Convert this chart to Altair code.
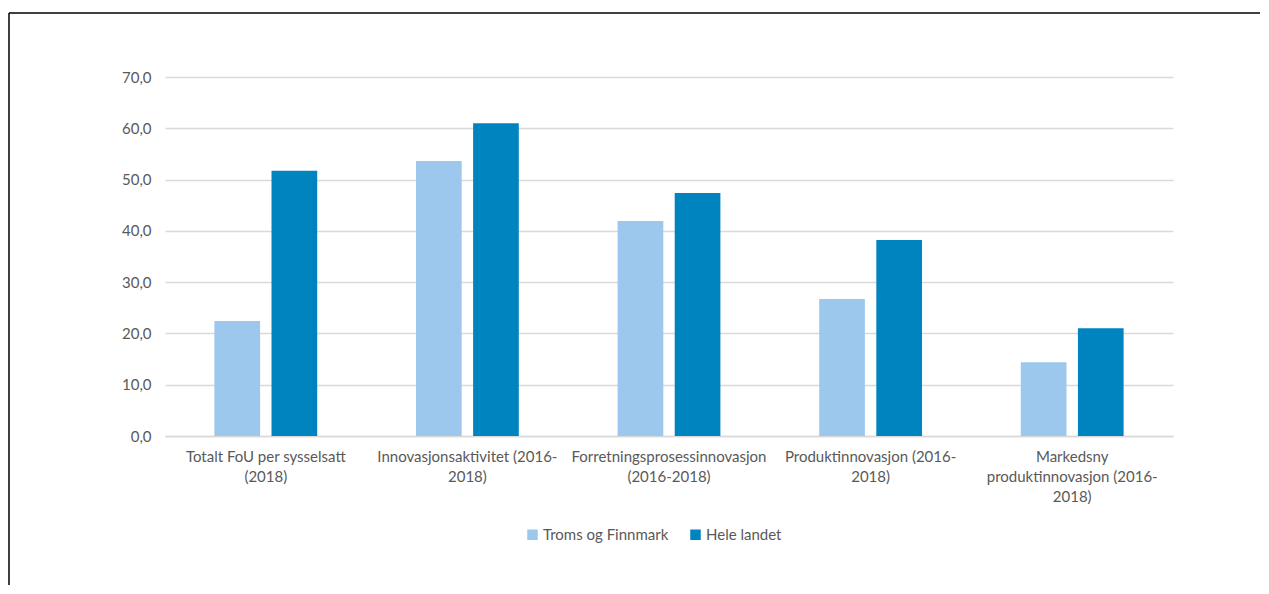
import altair as alt
import pandas as pd

categories = [
    "Totalt FoU per sysselsatt (2018)",
    "Innovasjonsaktivitet (2016-2018)",
    "Forretningsprosessinnovasjon (2016-2018)",
    "Produktinnovasjon (2016-2018)",
    "Markedsny produktinnovasjon (2016-2018)",
]
label_lines = [
    ["Totalt FoU per sysselsatt", "(2018)"],
    ["Innovasjonsaktivitet (2016-", "2018)"],
    ["Forretningsprosessinnovasjon", "(2016-2018)"],
    ["Produktinnovasjon (2016-", "2018)"],
    ["Markedsny", "produktinnovasjon (2016-", "2018)"],
]
series = ["Troms og Finnmark", "Hele landet"]
troms = [22.4, 53.6, 41.9, 26.7, 14.4]
hele = [51.7, 61.0, 47.4, 38.2, 21.0]
colors = ["#9BC8EC", "#0084C0"]

rows = []
for c, t, h in zip(categories, troms, hele):
    rows.append({"kategori": c, "serie": series[0], "verdi": t})
    rows.append({"kategori": c, "serie": series[1], "verdi": h})
df = pd.DataFrame(rows)

mapping = "{" + ", ".join(
    "'" + c + "': [" + ", ".join("'" + l + "'" for l in ls) + "]"
    for c, ls in zip(categories, label_lines)
) + "}"

font = "Lato"
fs = 15
W, H = 1008, 359

bars = alt.Chart(df).mark_bar().encode(
    x=alt.X("kategori:N", sort=categories, title=None,
            scale=alt.Scale(paddingInner=0.49, paddingOuter=0.245),
            axis=alt.Axis(labelAngle=0, labelExpr=mapping + "[datum.value]",
                          labelFontSize=fs, labelColor="#595959", labelFont=font,
                          labelPadding=13, labelLineHeight=20, ticks=False,
                          domainColor="#d9d9d9", domainWidth=1.5, grid=False,
                          labelLimit=300)),
    xOffset=alt.XOffset("serie:N", sort=series,
                        scale=alt.Scale(paddingInner=0.2)),
    y=alt.Y("verdi:Q", title=None,
            scale=alt.Scale(domain=[0, 70]),
            axis=alt.Axis(values=[0, 10, 20, 30, 40, 50, 60, 70],
                          labelExpr="replace(format(datum.value, '.1f'), '.', ',')",
                          labelFontSize=fs, labelColor="#595959", labelFont=font,
                          labelPadding=14, ticks=False, domain=False,
                          gridColor="#d9d9d9", gridWidth=1.5)),
    color=alt.Color("serie:N", sort=series,
                    scale=alt.Scale(domain=series, range=colors),
                    legend=alt.Legend(title=None, orient="none", direction="horizontal",
                                      legendX=360, legendY=450,
                                      symbolType="square", symbolSize=110,
                                      symbolStrokeWidth=0,
                                      labelFontSize=fs, labelColor="#595959",
                                      labelFont=font, columnPadding=19,
                                      symbolOffset=0, labelOffset=3)),
)

vline = alt.Chart(pd.DataFrame({"a": [0]})).mark_rule(color="black", strokeWidth=1.5).encode(
    x=alt.value(-156), y=alt.value(-64), y2=alt.value(600)
)
hline = alt.Chart(pd.DataFrame({"a": [0]})).mark_rule(color="black", strokeWidth=1.5).encode(
    x=alt.value(-156), x2=alt.value(1200), y=alt.value(-64)
)

chart = alt.layer(bars, vline, hline).properties(
    width=W, height=H,
    autosize=alt.AutoSizeParams(type="none"),
    padding={"left": 157, "top": 69, "right": 87, "bottom": 149},
    background="white",
).configure_view(strokeWidth=0, stroke="transparent")

chart.save("out.html", embed_options={"renderer": "svg", "actions": False})
